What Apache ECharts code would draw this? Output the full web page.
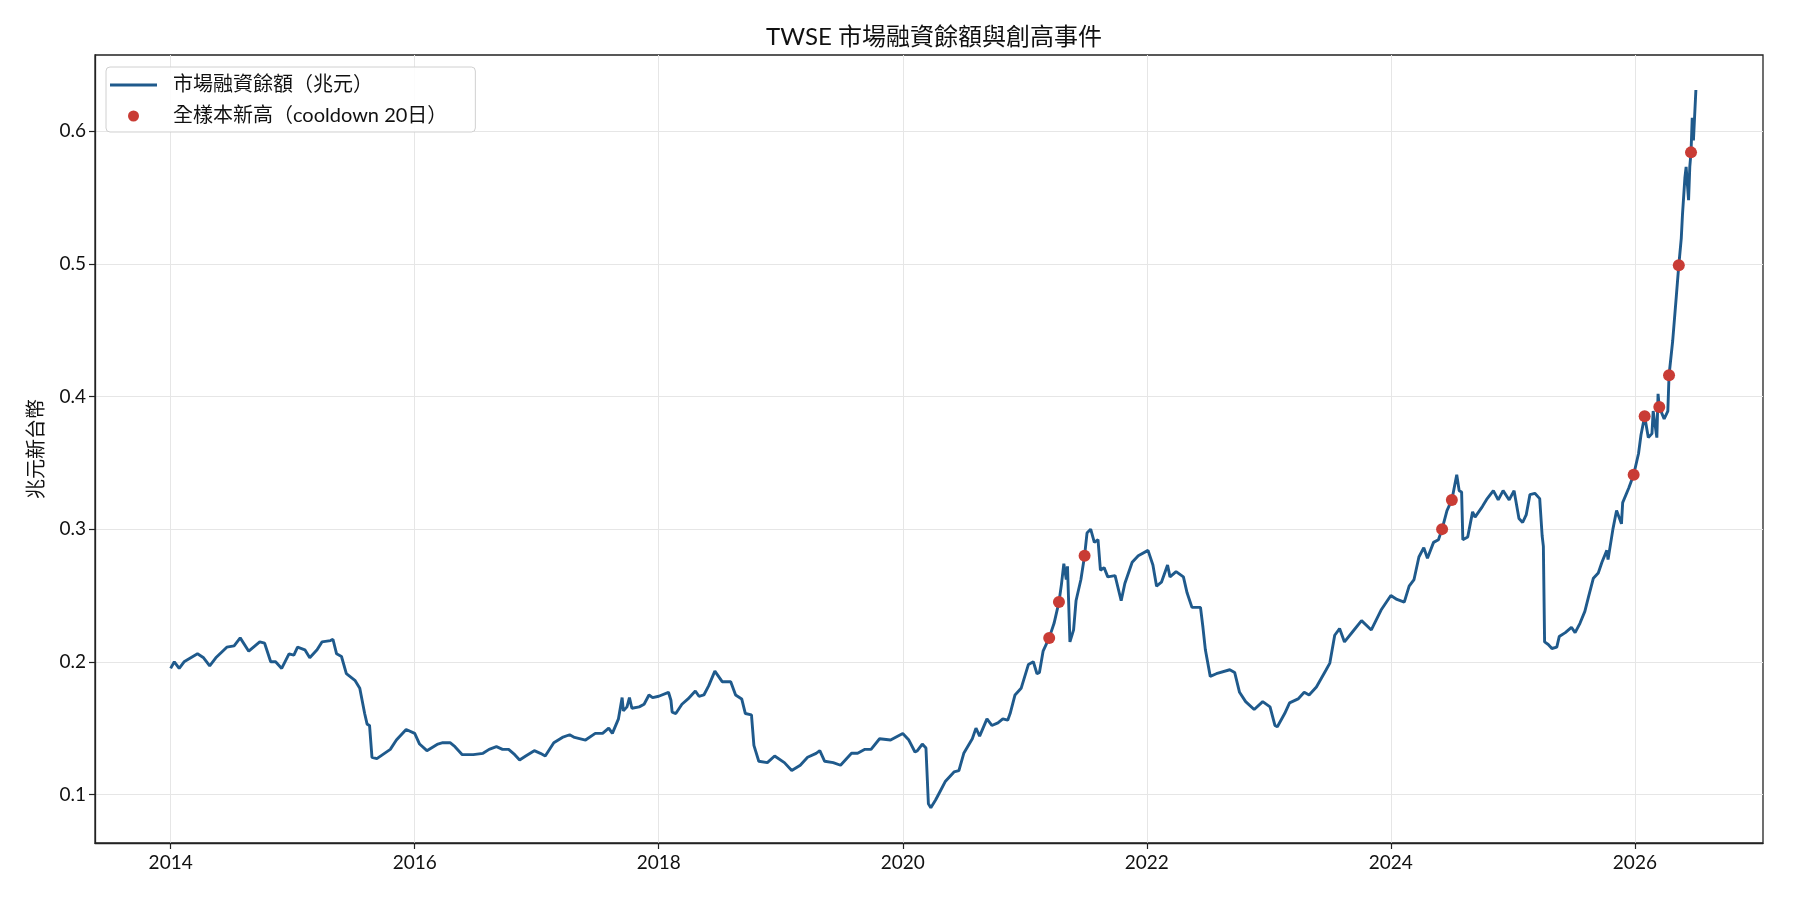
<!DOCTYPE html>
<html>
<head>
<meta charset="utf-8">
<title>TWSE 市場融資餘額與創高事件</title>
<script src="https://cdn.jsdelivr.net/npm/echarts@6/dist/echarts.min.js"></script>
<style>
    html, body { margin: 0; padding: 0; background: #fff; }
    #chart { width: 1800px; height: 900px; }
</style>
</head>
<body>
<div id="chart"></div>
<script>
// 日期以小數年表示，數值單位：兆元
var dates = [
    2014.00, 2014.03, 2014.07, 2014.11, 2014.22, 2014.27, 2014.32, 2014.37, 2014.46, 2014.52,
    2014.57, 2014.64, 2014.73, 2014.77, 2014.82, 2014.86, 2014.91, 2014.97, 2015.01, 2015.04,
    2015.10, 2015.14, 2015.20, 2015.24, 2015.31, 2015.33, 2015.36, 2015.40, 2015.44, 2015.51,
    2015.55, 2015.59, 2015.61, 2015.63, 2015.65, 2015.69, 2015.80, 2015.85, 2015.93, 2016.00,
    2016.04, 2016.10, 2016.19, 2016.23, 2016.29, 2016.33, 2016.39, 2016.48, 2016.56, 2016.61,
    2016.67, 2016.72, 2016.77, 2016.82, 2016.86, 2016.91, 2016.98, 2017.03, 2017.07, 2017.14,
    2017.21, 2017.27, 2017.31, 2017.40, 2017.48, 2017.54, 2017.59, 2017.62, 2017.67, 2017.70,
    2017.71, 2017.74, 2017.76, 2017.78, 2017.84, 2017.88, 2017.92, 2017.95, 2018.00, 2018.08,
    2018.10, 2018.11, 2018.14, 2018.19, 2018.24, 2018.30, 2018.33, 2018.37, 2018.41, 2018.46,
    2018.52, 2018.59, 2018.63, 2018.68, 2018.71, 2018.76, 2018.78, 2018.82, 2018.89, 2018.95,
    2019.03, 2019.09, 2019.16, 2019.22, 2019.29, 2019.32, 2019.36, 2019.43, 2019.49, 2019.58,
    2019.63, 2019.69, 2019.74, 2019.81, 2019.90, 2020.00, 2020.05, 2020.10, 2020.12, 2020.16,
    2020.19, 2020.21, 2020.23, 2020.27, 2020.31, 2020.35, 2020.42, 2020.46, 2020.50, 2020.57,
    2020.60, 2020.63, 2020.69, 2020.73, 2020.78, 2020.82, 2020.86, 2020.88, 2020.92, 2020.97,
    2020.99, 2021.03, 2021.07, 2021.10, 2021.12, 2021.15, 2021.20, 2021.24, 2021.28, 2021.30,
    2021.32, 2021.34, 2021.35, 2021.37, 2021.40, 2021.42, 2021.46, 2021.49, 2021.51, 2021.54,
    2021.57, 2021.60, 2021.62, 2021.65, 2021.68, 2021.74, 2021.79, 2021.82, 2021.88, 2021.93,
    2022.01, 2022.05, 2022.08, 2022.12, 2022.17, 2022.19, 2022.24, 2022.30, 2022.33, 2022.37,
    2022.44, 2022.46, 2022.48, 2022.52, 2022.57, 2022.68, 2022.72, 2022.76, 2022.81, 2022.88,
    2022.95, 2023.01, 2023.05, 2023.07, 2023.13, 2023.17, 2023.24, 2023.29, 2023.33, 2023.39,
    2023.47, 2023.50, 2023.54, 2023.58, 2023.62, 2023.69, 2023.76, 2023.84, 2023.92, 2024.00,
    2024.05, 2024.11, 2024.15, 2024.19, 2024.23, 2024.27, 2024.30, 2024.35, 2024.39, 2024.42,
    2024.46, 2024.50, 2024.54, 2024.56, 2024.58, 2024.59, 2024.63, 2024.67, 2024.69, 2024.75,
    2024.79, 2024.84, 2024.88, 2024.92, 2024.97, 2025.01, 2025.05, 2025.08, 2025.11, 2025.14,
    2025.18, 2025.22, 2025.24, 2025.25, 2025.26, 2025.29, 2025.32, 2025.36, 2025.38, 2025.43,
    2025.48, 2025.51, 2025.55, 2025.59, 2025.62, 2025.66, 2025.70, 2025.73, 2025.77, 2025.78,
    2025.82, 2025.85, 2025.89, 2025.90, 2025.95, 2025.99, 2026.03, 2026.05, 2026.08, 2026.11,
    2026.14, 2026.15, 2026.18, 2026.19, 2026.20, 2026.24, 2026.27, 2026.28, 2026.31, 2026.34,
    2026.36, 2026.38, 2026.39, 2026.41, 2026.42, 2026.44, 2026.45, 2026.46, 2026.47, 2026.48,
    2026.50
];

var balance = [
    0.195, 0.200, 0.195, 0.200, 0.206, 0.203, 0.197, 0.203, 0.211, 0.212,
    0.218, 0.208, 0.215, 0.214, 0.200, 0.200, 0.195, 0.206, 0.205, 0.211,
    0.209, 0.203, 0.209, 0.215, 0.216, 0.217, 0.206, 0.204, 0.191, 0.186,
    0.180, 0.161, 0.153, 0.152, 0.128, 0.127, 0.134, 0.141, 0.149, 0.146,
    0.138, 0.133, 0.138, 0.139, 0.139, 0.136, 0.130, 0.130, 0.131, 0.134,
    0.136, 0.134, 0.134, 0.130, 0.126, 0.129, 0.133, 0.131, 0.129, 0.139,
    0.143, 0.145, 0.143, 0.141, 0.146, 0.146, 0.150, 0.146, 0.157, 0.173,
    0.163, 0.166, 0.173, 0.165, 0.166, 0.168, 0.175, 0.173, 0.174, 0.177,
    0.171, 0.162, 0.161, 0.168, 0.172, 0.178, 0.174, 0.175, 0.182, 0.193,
    0.185, 0.185, 0.175, 0.172, 0.161, 0.160, 0.137, 0.125, 0.124, 0.129,
    0.124, 0.118, 0.122, 0.128, 0.131, 0.133, 0.125, 0.124, 0.122, 0.131,
    0.131, 0.134, 0.134, 0.142, 0.141, 0.146, 0.141, 0.132, 0.133, 0.138,
    0.135, 0.093, 0.090, 0.096, 0.103, 0.110, 0.117, 0.118, 0.131, 0.142,
    0.150, 0.144, 0.157, 0.152, 0.154, 0.157, 0.156, 0.161, 0.175, 0.180,
    0.186, 0.198, 0.200, 0.191, 0.192, 0.208, 0.218, 0.229, 0.245, 0.258,
    0.274, 0.262, 0.272, 0.215, 0.224, 0.246, 0.262, 0.280, 0.297, 0.300,
    0.290, 0.292, 0.269, 0.271, 0.264, 0.265, 0.246, 0.259, 0.275, 0.280,
    0.284, 0.273, 0.257, 0.260, 0.273, 0.264, 0.268, 0.264, 0.252, 0.241,
    0.241, 0.226, 0.209, 0.189, 0.191, 0.194, 0.192, 0.177, 0.170, 0.164,
    0.170, 0.166, 0.152, 0.151, 0.161, 0.169, 0.172, 0.177, 0.175, 0.181,
    0.194, 0.199, 0.220, 0.225, 0.215, 0.223, 0.231, 0.224, 0.239, 0.250,
    0.247, 0.245, 0.257, 0.262, 0.279, 0.286, 0.278, 0.290, 0.292, 0.300,
    0.314, 0.322, 0.341, 0.329, 0.328, 0.292, 0.294, 0.313, 0.309, 0.317,
    0.323, 0.329, 0.322, 0.329, 0.322, 0.329, 0.308, 0.305, 0.311, 0.326,
    0.327, 0.323, 0.295, 0.287, 0.215, 0.213, 0.210, 0.211, 0.219, 0.222,
    0.226, 0.222, 0.229, 0.238, 0.249, 0.263, 0.267, 0.275, 0.284, 0.277,
    0.300, 0.314, 0.304, 0.320, 0.331, 0.341, 0.357, 0.371, 0.385, 0.369,
    0.372, 0.389, 0.369, 0.402, 0.392, 0.383, 0.389, 0.416, 0.442, 0.476,
    0.499, 0.519, 0.537, 0.565, 0.573, 0.548, 0.573, 0.584, 0.610, 0.593,
    0.631
];

// 全樣本新高（cooldown 20日）
var peakDates = [2021.20, 2021.28, 2021.49, 2024.42, 2024.50, 2025.99, 2026.08, 2026.20, 2026.28, 2026.36, 2026.46];
var peakValues = [0.218, 0.245, 0.280, 0.300, 0.322, 0.341, 0.385, 0.392, 0.416, 0.499, 0.584];

var xTicks = [2014, 2016, 2018, 2020, 2022, 2024, 2026];
var yTicks = [0.1, 0.2, 0.3, 0.4, 0.5, 0.6];

var lineName = '市場融資餘額（兆元）';
var peakName = '全樣本新高（cooldown 20日）';

var FONT = "Lato, 'Noto Sans CJK TC', sans-serif";
var LINE_COLOR = '#1f5a8c';
var PEAK_COLOR = '#c93c35';

// 圖例用的細線（上下各放一個極小的點撐開外框，避免被拉伸）
var legendLineIcon = 'path://M0,0 L0.01,0 L0,0.01 Z M0,4 L47,4 L47,7 L0,7 Z M0,11 L0.01,11 L0,10.99 Z';

var chart = echarts.init(document.getElementById('chart'), null, {renderer: 'canvas'});

var lineData = dates.map(function (d, i) {
    return [d, balance[i]];
});
var peakData = peakDates.map(function (d, i) {
    return [d, peakValues[i]];
});

var option = {
    animation: false,
    backgroundColor: '#ffffff',
    textStyle: {fontFamily: FONT},
    title: {
        text: 'TWSE 市場融資餘額與創高事件',
        left: 929,
        textAlign: 'center',
        top: 20,
        textStyle: {fontFamily: FONT, fontSize: 24, fontWeight: 'normal', color: '#111'}
    },
    legend: {
        orient: 'vertical',
        left: 106,
        top: 67,
        padding: [8, 28, 6, 4],
        itemGap: 11,
        itemWidth: 47,
        itemHeight: 11,
        backgroundColor: 'rgba(255,255,255,0.85)',
        borderColor: '#d0d0d0',
        borderWidth: 1,
        borderRadius: 4,
        textStyle: {fontFamily: FONT, fontSize: 20, color: '#111', padding: [0, 0, 0, 11]},
        data: [
            {name: lineName, icon: legendLineIcon, itemStyle: {color: LINE_COLOR}},
            {name: peakName, icon: 'circle', itemStyle: {color: PEAK_COLOR}}
        ]
    },
    grid: {
        left: 95,
        right: 37,
        top: 55,
        bottom: 57,
        show: true,
        borderColor: '#222',
        borderWidth: 1.3,
        backgroundColor: 'transparent'
    },
    xAxis: {
        type: 'value',
        min: 2013.38,
        max: 2027.05,
        axisLine: {show: true, lineStyle: {color: '#222', width: 1.3}},
        axisTick: {show: true, length: 6, lineStyle: {color: '#222', width: 1.2}, customValues: xTicks},
        axisLabel: {
            margin: 10,
            fontSize: 19,
            color: '#111',
            fontFamily: FONT,
            customValues: xTicks,
            formatter: function (v) { return String(Math.round(v)); }
        },
        splitLine: {show: true, lineStyle: {color: '#e6e6e6', width: 1}}
    },
    yAxis: {
        type: 'value',
        min: 0.0634,
        max: 0.6574,
        name: '兆元新台幣',
        nameLocation: 'middle',
        nameRotate: 90,
        nameGap: 48,
        nameTextStyle: {fontFamily: FONT, fontSize: 20, color: '#111'},
        axisLine: {show: true, lineStyle: {color: '#222', width: 1.3}},
        axisTick: {show: true, length: 6, lineStyle: {color: '#222', width: 1.2}, customValues: yTicks},
        axisLabel: {
            margin: 9,
            fontSize: 19,
            color: '#111',
            fontFamily: FONT,
            customValues: yTicks,
            formatter: function (v) { return v.toFixed(1); }
        },
        splitLine: {show: true, lineStyle: {color: '#e6e6e6', width: 1}}
    },
    series: [
        {
            name: lineName,
            type: 'line',
            data: lineData,
            symbol: 'none',
            showSymbol: false,
            color: LINE_COLOR,
            lineStyle: {color: LINE_COLOR, width: 2.9},
            z: 2
        },
        {
            name: peakName,
            type: 'scatter',
            data: peakData,
            symbol: 'circle',
            symbolSize: 12,
            itemStyle: {color: PEAK_COLOR, opacity: 1},
            z: 3
        }
    ]
};

chart.setOption(option);
</script>
</body>
</html>
